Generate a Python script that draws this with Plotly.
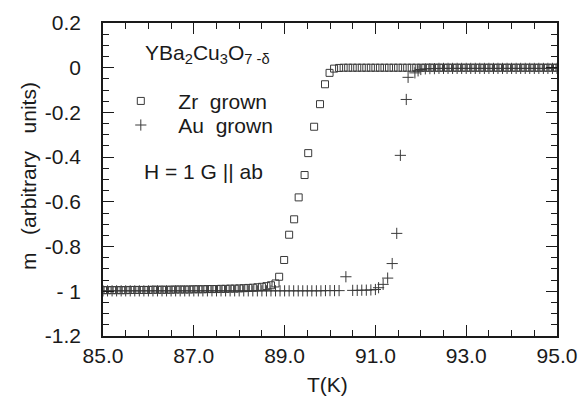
import plotly.graph_objects as go

# ---- data ----
zr_T = [85.0, 85.1, 85.2, 85.3, 85.4, 85.5, 85.6, 85.7, 85.8, 85.9,
        86.0, 86.1, 86.2, 86.3, 86.4, 86.5, 86.6, 86.7, 86.8, 86.9,
        87.0, 87.1, 87.2, 87.3, 87.4, 87.5, 87.6, 87.7, 87.8, 87.9,
        88.0, 88.1, 88.2, 88.3, 88.4, 88.5, 88.6, 88.7, 88.8,
        88.88, 88.99, 89.10, 89.21, 89.31, 89.44, 89.52, 89.65, 89.78, 89.89, 89.99, 90.09,
        90.2, 90.3, 90.4, 90.5, 90.6, 90.7, 90.8, 90.9, 91.0,
        91.1, 91.2, 91.3, 91.4, 91.5, 91.6, 91.7, 91.8, 91.9, 92.0,
        92.1, 92.2, 92.3, 92.4, 92.5, 92.6, 92.7, 92.8, 92.9, 93.0,
        93.1, 93.2, 93.3, 93.4, 93.5, 93.6, 93.7, 93.8, 93.9, 94.0,
        94.1, 94.2, 94.3, 94.4, 94.5, 94.6, 94.7, 94.8, 94.9, 95.0]
zr_m = [-0.995, -0.995, -0.995, -0.995, -0.995, -0.995, -0.994, -0.994, -0.994, -0.994,
        -0.994, -0.993, -0.993, -0.993, -0.993, -0.993, -0.992, -0.992, -0.992, -0.992,
        -0.991, -0.991, -0.991, -0.990, -0.990, -0.990, -0.989, -0.989, -0.988, -0.988,
        -0.987, -0.986, -0.985, -0.984, -0.982, -0.980, -0.977, -0.973, -0.965,
        -0.935, -0.86, -0.747, -0.678, -0.58, -0.48, -0.382, -0.264, -0.163, -0.074, -0.023, -0.004,
        -0.001, 0.0, 0.0, 0.0, 0.0, 0.0, 0.0, 0.0, 0.0,
        0.0, 0.0, 0.0, 0.0, 0.0, 0.0, 0.0, 0.0, 0.0, 0.0,
        0.0, 0.0, 0.0, 0.0, 0.0, 0.0, 0.0, 0.0, 0.0, 0.0,
        0.0, 0.0, 0.0, 0.0, 0.0, 0.0, 0.0, 0.0, 0.0, 0.0,
        0.0, 0.0, 0.0, 0.0, 0.0, 0.0, 0.0, 0.0, 0.0, 0.0]

au_T = [85.0, 85.1, 85.2, 85.3, 85.4, 85.5, 85.6, 85.7, 85.8, 85.9,
        86.0, 86.1, 86.2, 86.3, 86.4, 86.5, 86.6, 86.7, 86.8, 86.9,
        87.0, 87.1, 87.2, 87.3, 87.4, 87.5, 87.6, 87.7, 87.8, 87.9,
        88.0, 88.1, 88.2, 88.3, 88.4, 88.5, 88.6, 88.7, 88.8, 88.9,
        89.0, 89.1, 89.2, 89.3, 89.4, 89.5, 89.6, 89.7, 89.8, 89.9,
        90.0, 90.1, 90.2, 90.35, 90.5, 90.6, 90.7, 90.8, 90.9, 91.0,
        91.07, 91.17, 91.27, 91.37, 91.47, 91.55, 91.68, 91.72, 91.87, 91.94, 92.0,
        92.1, 92.2, 92.3, 92.4, 92.5, 92.6, 92.7, 92.8, 92.9, 93.0,
        93.1, 93.2, 93.3, 93.4, 93.5, 93.6, 93.7, 93.8, 93.9, 94.0,
        94.1, 94.2, 94.3, 94.4, 94.5, 94.6, 94.7, 94.8, 94.9, 95.0]
au_m = [-0.998, -0.998, -0.998, -0.998, -0.998, -0.998, -0.998, -0.998, -0.998, -0.998,
        -0.998, -0.998, -0.998, -0.998, -0.998, -0.998, -0.998, -0.998, -0.998, -0.998,
        -0.998, -0.998, -0.998, -0.998, -0.998, -0.998, -0.998, -0.998, -0.998, -0.998,
        -0.998, -0.998, -0.998, -0.998, -0.998, -0.998, -0.998, -0.998, -0.998, -0.998,
        -0.998, -0.998, -0.998, -0.998, -0.998, -0.998, -0.998, -0.998, -0.998, -0.997,
        -0.997, -0.997, -0.997, -0.935, -0.996, -0.996, -0.995, -0.995, -0.994, -0.992,
        -0.984, -0.969, -0.941, -0.876, -0.741, -0.392, -0.142, -0.043, -0.023, -0.014, -0.008,
        -0.005, -0.004, -0.004, -0.003, -0.003, -0.003, -0.003, -0.003, -0.003, -0.003,
        -0.003, -0.003, -0.003, -0.003, -0.003, -0.003, -0.003, -0.003, -0.003, -0.003,
        -0.003, -0.003, -0.003, -0.003, -0.003, -0.003, -0.003, -0.003, -0.003, -0.003]

x_tickvals = [85, 87, 89, 91, 93, 95]
x_ticktext = ["85.0", "87.0", "89.0", "91.0", "93.0", "95.0"]
y_tickvals = [-1.2, -1.0, -0.8, -0.6, -0.4, -0.2, 0.0, 0.2]
y_ticktext = ["-1.2", "- 1", "-0.8", "-0.6", "-0.4", "-0.2", "0", "0.2"]

FONT = "Liberation Sans, Arial, Helvetica, sans-serif"
INK = "#1a1a1a"
MARK = "#3a3a3a"

fig = go.Figure()
fig.add_trace(go.Scatter(
    x=zr_T, y=zr_m, mode="markers", legend="legend",
    name="\u00a0\u00a0\u00a0Zr\u00a0\u00a0grown",
    marker=dict(symbol="square-open", size=7, color=MARK, line=dict(width=1, color=MARK)),
))
fig.add_trace(go.Scatter(
    x=au_T, y=au_m, mode="markers", legend="legend2",
    name="\u00a0\u00a0\u00a0Au\u00a0\u00a0grown",
    marker=dict(symbol="cross-thin-open", size=8, color=MARK, line=dict(width=1, color=MARK)),
))

axis_common = dict(
    showline=True, linecolor=INK, linewidth=1.5, mirror="allticks",
    ticks="inside", ticklen=11, tickwidth=1.3, tickcolor=INK,
    showgrid=False, zeroline=False,
    tickfont=dict(family=FONT, size=21, color=INK),
)

fig.update_xaxes(
    range=[85, 95], tickmode="array", tickvals=x_tickvals, ticktext=x_ticktext,
    minor=dict(tickmode="linear", tick0=85, dtick=0.5, ticks="inside", ticklen=6,
               tickwidth=1.2, tickcolor=INK, showgrid=False),
    **axis_common,
)
fig.update_yaxes(
    range=[-1.2, 0.2], tickmode="array", tickvals=y_tickvals, ticktext=y_ticktext,
    ticklabelstandoff=16,
    minor=dict(tickmode="linear", tick0=0, dtick=0.05, ticks="inside", ticklen=6,
               tickwidth=1.2, tickcolor=INK, showgrid=False),
    **axis_common,
)

fig.add_annotation(
    text="YBa<sub>2</sub>Cu<sub>3</sub>O<sub>7 -δ</sub>",
    xref="paper", yref="paper", x=(143 - 103) / 459, y=(336 - 43) / 325,
    xanchor="left", yanchor="middle", showarrow=False,
    font=dict(family=FONT, size=21, color=INK),
)
fig.add_annotation(
    text="H = 1 G || ab",
    xref="paper", yref="paper", x=(142 - 103) / 459, y=(336 - 165) / 325,
    xanchor="left", yanchor="middle", showarrow=False,
    font=dict(family=FONT, size=21, color=INK),
)
fig.add_annotation(
    text="m\u00a0\u00a0\u00a0(arbitrary\u00a0\u00a0\u00a0units)",
    xref="paper", yref="paper", x=(27 - 103) / 459, y=(336 - 170) / 325,
    xanchor="center", yanchor="middle", textangle=-90, showarrow=False,
    font=dict(family=FONT, size=21, color=INK),
)
fig.add_annotation(
    text="T(K)",
    xref="paper", yref="paper", x=(330 - 103) / 459, y=(336 - 386) / 325,
    xanchor="center", yanchor="middle", showarrow=False,
    font=dict(family=FONT, size=21, color=INK),
)

legend_common = dict(
    xanchor="left", yanchor="top",
    bgcolor="rgba(0,0,0,0)", borderwidth=0,
    font=dict(family=FONT, size=21, color=INK),
    tracegroupgap=0, itemsizing="trace",
)

fig.update_layout(
    width=588, height=397,
    margin=dict(l=103, r=26, t=11, b=61),
    paper_bgcolor="white", plot_bgcolor="white",
    showlegend=True,
    legend=dict(x=(121 - 103) / 459, y=(336 - 71) / 325, **legend_common),
    legend2=dict(x=(121 - 103) / 459, y=(336 - 96) / 325, **legend_common),
)

fig.write_html("out.html")
